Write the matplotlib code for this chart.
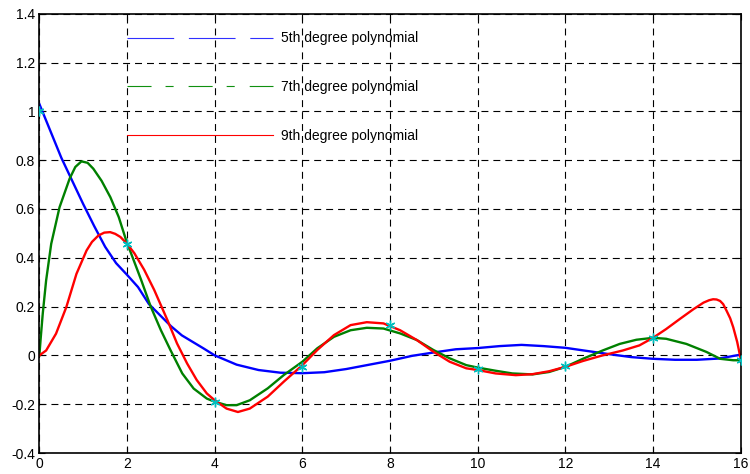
import matplotlib
matplotlib.use("Agg")
import matplotlib.pyplot as plt
from matplotlib.lines import Line2D

plt.rcParams['font.family'] = ['Liberation Sans', 'DejaVu Sans']
plt.rcParams['lines.scale_dashes'] = False

# sample points
xs = [0, 2, 4, 6, 8, 10, 12, 14, 16]
ys = [1.0, 0.455, -0.189, -0.047, 0.124, -0.054, -0.045, 0.071, -0.018]

# 5th degree polynomial
x5 = [0, 0.25, 0.5, 0.75, 1.0, 1.25, 1.5, 1.75, 2.0, 2.25, 2.5, 2.75, 3.0, 3.25,
      3.5, 3.75, 4.0, 4.5, 5.0, 5.5, 6.0, 6.5, 7.0, 7.5, 8.0, 8.5, 9.0, 9.5,
      10.0, 10.5, 11.0, 11.5, 12.0, 12.5, 13.0, 13.5, 14.0, 14.5, 15.0, 15.5, 16.0]
y5 = [1.03, 0.92, 0.81, 0.715, 0.62, 0.53, 0.445, 0.378, 0.33, 0.28, 0.21, 0.165,
      0.12, 0.082, 0.055, 0.028, 0.0, -0.038, -0.06, -0.071, -0.073, -0.069,
      -0.056, -0.039, -0.022, -0.002, 0.012, 0.025, 0.03, 0.038, 0.043, 0.038,
      0.031, 0.018, 0.005, -0.007, -0.014, -0.018, -0.018, -0.013, 0.003]

# 7th degree polynomial
x7 = [0, 0.03, 0.077, 0.154, 0.27, 0.46, 0.69, 0.82, 0.96, 1.1, 1.23, 1.42, 1.62,
      1.81, 2.0, 2.09, 2.32, 2.54, 2.77, 2.99, 3.26, 3.52, 3.82, 4.0, 4.27, 4.5,
      4.8, 5.21, 5.58, 6.0, 6.34, 6.72, 7.1, 7.47, 7.85, 8.23, 8.61, 8.99, 9.36,
      9.74, 10.0, 10.41, 10.79, 11.25, 11.63, 12.0, 12.4, 12.85, 13.24, 13.62,
      14.0, 14.3, 14.76, 15.22, 15.53, 15.83, 16.0]
y7 = [0.0, 0.07, 0.171, 0.307, 0.457, 0.607, 0.724, 0.772, 0.795, 0.789, 0.765,
      0.715, 0.648, 0.567, 0.46, 0.419, 0.31, 0.2, 0.104, 0.022, -0.074, -0.136,
      -0.177, -0.19, -0.204, -0.204, -0.184, -0.135, -0.08, -0.026, 0.029, 0.076,
      0.103, 0.113, 0.11, 0.09, 0.063, 0.022, -0.012, -0.04, -0.05, -0.063,
      -0.074, -0.078, -0.068, -0.047, -0.014, 0.02, 0.047, 0.064, 0.072, 0.068,
      0.047, 0.014, -0.014, -0.02, -0.02]

# 9th degree polynomial
x9 = [0, 0.154, 0.38, 0.615, 0.846, 1.077, 1.2, 1.346, 1.48, 1.615, 1.73, 1.85,
      2.0, 2.165, 2.39, 2.62, 2.92, 3.14, 3.37, 3.59, 3.82, 4.0, 4.27, 4.53, 4.8,
      5.21, 5.58, 6.0, 6.34, 6.72, 7.1, 7.47, 7.85, 8.23, 8.61, 8.99, 9.36, 9.74,
      10.0, 10.41, 10.87, 11.25, 11.63, 12.0, 12.4, 12.85, 13.31, 13.69, 14.0,
      14.3, 14.61, 14.92, 15.15, 15.28, 15.37, 15.45, 15.53, 15.6, 15.68, 15.76,
      15.83, 15.92, 16.0]
y9 = [0.0, 0.02, 0.089, 0.198, 0.334, 0.43, 0.465, 0.491, 0.503, 0.505, 0.498,
      0.485, 0.457, 0.419, 0.351, 0.268, 0.145, 0.049, -0.033, -0.101, -0.156,
      -0.184, -0.218, -0.232, -0.218, -0.169, -0.107, -0.04, 0.022, 0.083, 0.124,
      0.136, 0.131, 0.103, 0.063, 0.015, -0.026, -0.053, -0.06, -0.074, -0.081,
      -0.077, -0.065, -0.047, -0.023, 0.0, 0.02, 0.041, 0.072, 0.108, 0.149,
      0.189, 0.216, 0.226, 0.23, 0.229, 0.223, 0.21, 0.182, 0.152, 0.115, 0.055,
      -0.014]

labels = ['5th degree polynomial', '7th degree polynomial', '9th degree polynomial']

fig = plt.figure(figsize=(7.5, 4.74), dpi=100)
ax = fig.add_axes([0.0525, 0.0443, 0.9351, 0.9268])

ax.plot(x5, y5, color='#0000ff', lw=1.7)
ax.plot(x7, y7, color='#008000', lw=1.7)
ax.plot(x9, y9, color='#ff0000', lw=1.7)
ax.plot(xs, ys, ls='none', marker=(6, 2, 0), ms=7, mew=1.0, color='#00bfbf', zorder=5)

ax.set_xlim(0, 16)
ax.set_ylim(-0.4, 1.4)
ax.set_xticks(range(0, 17, 2))
ax.set_yticks([-0.4, -0.2, 0, 0.2, 0.4, 0.6, 0.8, 1.0, 1.2, 1.4])
ax.set_yticklabels(['-0.4', '-0.2', '0', '0.2', '0.4', '0.6', '0.8', '1', '1.2', '1.4'])
ax.tick_params(direction='in', length=4, width=0.8, top=True, right=True,
               labelsize=10, colors='black', pad=3)
ax.grid(True, color='black', lw=0.8, linestyle=(0, (5, 3.6)))
for s in ax.spines.values():
    s.set_linewidth(1.2)

handles = [Line2D([], [], color='#3030ff', lw=0.8, dashes=(33.6, 10.6)),
           Line2D([], [], color='#109010', lw=0.8, dashes=(17.3, 10.1, 5.8, 10.8)),
           Line2D([], [], color='#ff0000', lw=0.8)]
ax.legend(handles, labels, loc='upper left', bbox_to_anchor=(0.125, 0.9595),
          frameon=False, fontsize=10, handlelength=10.48, handletextpad=0.6,
          labelspacing=2.5, borderpad=0, borderaxespad=0)

fig.savefig('out.png', dpi=100)
